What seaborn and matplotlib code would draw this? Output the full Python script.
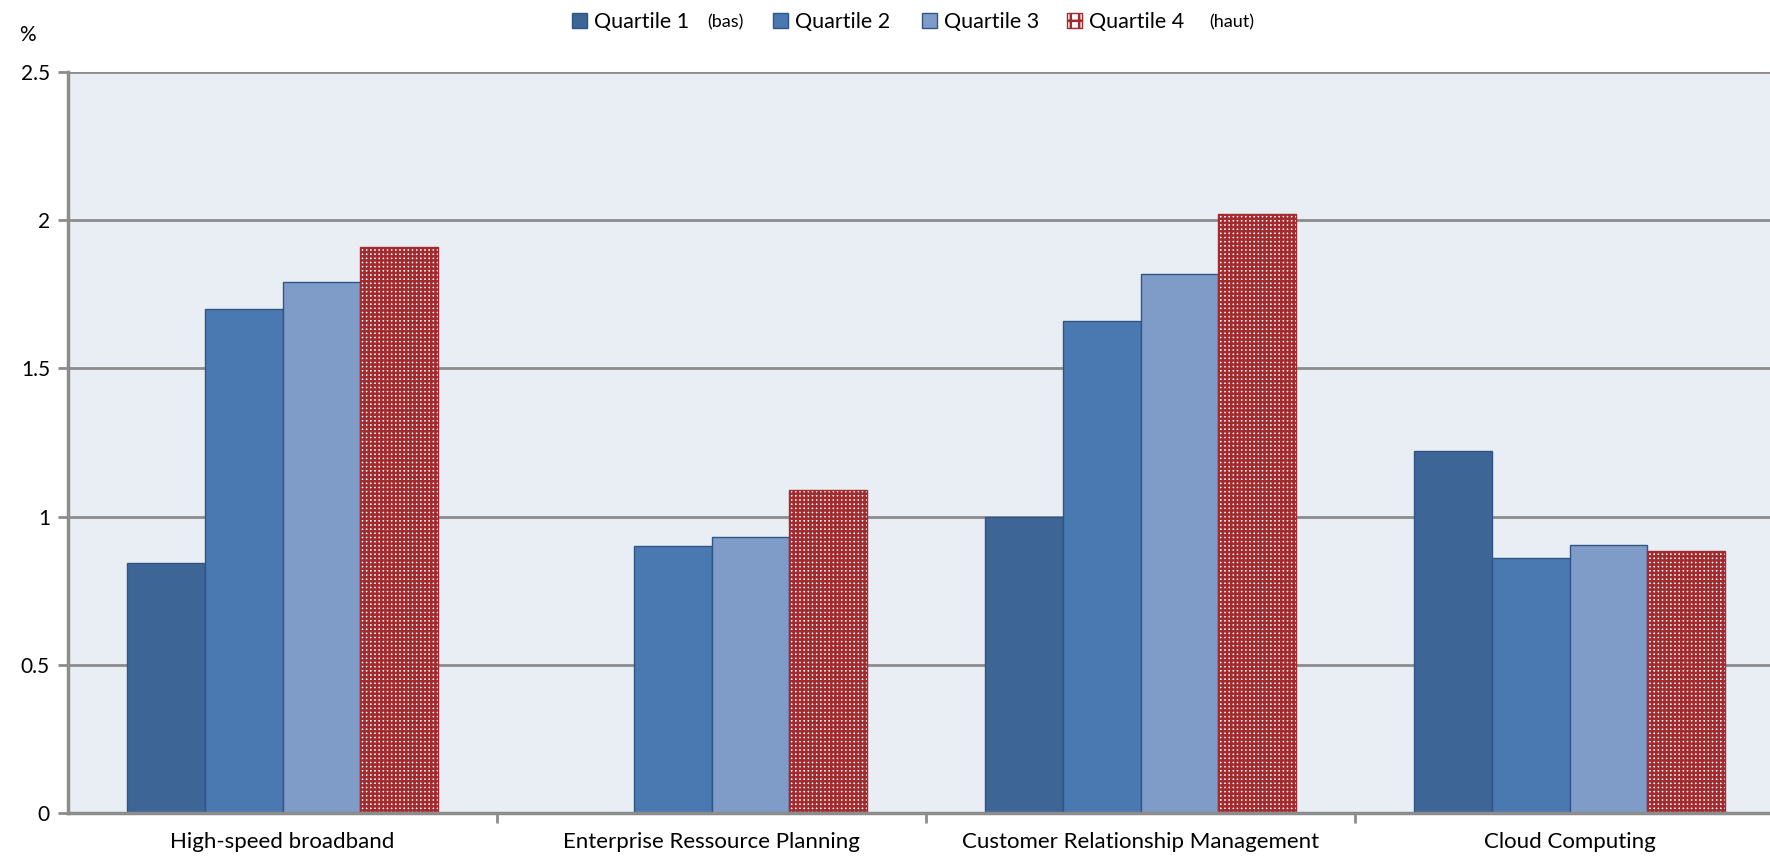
import numpy as np
import pandas as pd
import seaborn as sns
import matplotlib.pyplot as plt
from matplotlib.patches import Patch

# data
categories = ["High-speed broadband", "Enterprise Ressource Planning",
              "Customer Relationship Management", "Cloud Computing"]
quartiles = ["Quartile 1", "Quartile 2", "Quartile 3", "Quartile 4"]
q1 = [0.845, np.nan, 1.00, 1.22]
q2 = [1.70, 0.90, 1.66, 0.86]
q3 = [1.79, 0.93, 1.82, 0.905]
q4 = [1.91, 1.09, 2.02, 0.885]
yticks = [0, 0.5, 1, 1.5, 2, 2.5]
ytick_labels = ["0", "0.5", "1", "1.5", "2", "2.5"]

colors = ["#3D6697", "#4A78B0", "#7F9CC9", "#A12B2E"]
edge = "#2F5586"

rows = []
for q, vals in zip(quartiles, [q1, q2, q3, q4]):
    for c, v in zip(categories, vals):
        rows.append({"category": c, "quartile": q, "value": v})
df = pd.DataFrame(rows)

plt.rcParams['font.family'] = ['Lato', 'DejaVu Sans']
plt.rcParams['hatch.linewidth'] = 1.8

fig = plt.figure(figsize=(17.7, 8.58), dpi=100)
ax = fig.add_axes([68/1770, 45/858, 1716/1770, 741/858])
ax.set_facecolor("#E9EDF4")

sns.barplot(data=df, x="category", y="value", hue="quartile", order=categories,
            hue_order=quartiles, palette=colors, width=0.727, gap=0,
            saturation=1, edgecolor=edge, linewidth=1, legend=False, ax=ax)

# hatch for the 4th quartile
for bar in ax.containers[3]:
    bar.set_facecolor("white")
    bar.set_hatch("++++")
    if hasattr(bar, "set_hatchcolor"):
        bar.set_hatchcolor(colors[3])
        bar.set_edgecolor(edge)
    else:
        bar.set_edgecolor(colors[3])

ax.set_xlim(-0.5, 3.5)
ax.set_ylim(0, 2.5)
ax.set_yticks(yticks)
ax.set_yticklabels(ytick_labels)
ax.set_xlabel("")
ax.set_ylabel("")
ax.set_axisbelow(True)
ax.yaxis.grid(True, color="#8C8C8C", linewidth=2)
ax.xaxis.grid(False)
for s in ["top", "right"]:
    ax.spines[s].set_visible(False)
for s in ["left", "bottom"]:
    ax.spines[s].set_color("#8C8C8C")
    ax.spines[s].set_linewidth(2.5)

ax.set_xticks([0.5, 1.5, 2.5], minor=True)
ax.tick_params(axis="x", which="major", length=0, pad=14, labelsize=16)
ax.tick_params(axis="x", which="minor", length=7, width=2, color="#8C8C8C")
ax.tick_params(axis="y", length=7, width=2, color="#8C8C8C", labelsize=15, pad=6)

fig.text(27/1770, 1 - 35/858, "%", ha="center", va="center", fontsize=15)

# legend entries placed one by one, as in the reference
handles = [Patch(facecolor=colors[0], edgecolor=edge),
           Patch(facecolor=colors[1], edgecolor=edge),
           Patch(facecolor=colors[2], edgecolor=edge),
           Patch(facecolor="white", edgecolor=colors[3], hatch="++")]
legend_x = [572, 773, 922, 1067]
for h, lab, x in zip(handles, quartiles, legend_x):
    leg = fig.legend([h], [lab], loc="center left", bbox_to_anchor=(x/1770, 1 - 22/858),
                     frameon=False, fontsize=15.5, handlelength=0.7, handleheight=0.7,
                     handletextpad=0.3, borderpad=0, borderaxespad=0)
fig.text(725/1770, 1 - 22/858, "(bas)", ha="center", va="center", fontsize=13)
fig.text(1232/1770, 1 - 22/858, "(haut)", ha="center", va="center", fontsize=13)

fig.savefig("out.png", dpi=100)
